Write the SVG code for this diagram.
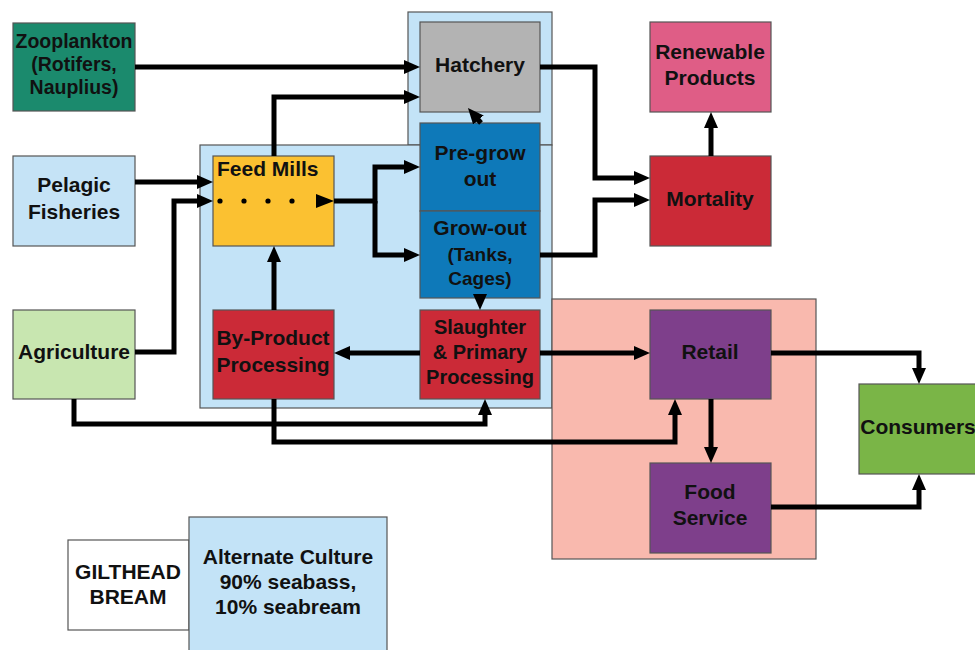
<svg xmlns="http://www.w3.org/2000/svg" width="975" height="650" viewBox="0 0 975 650">
<style>
.bx{stroke:#555;stroke-width:1.2}
.t{font-family:"Liberation Sans",Arial,sans-serif;font-weight:bold;font-size:21px;fill:#111;text-anchor:middle}
.c{fill:none;stroke:#000;stroke-width:5;stroke-linejoin:miter;marker-end:url(#ah)}
</style>
<defs>
<marker id="ah" markerWidth="16" markerHeight="14" refX="6" refY="7" orient="auto" markerUnits="userSpaceOnUse"><path d="M0,0 L16,7 L0,14 z" fill="#000"/></marker>
</defs>
<rect width="975" height="650" fill="#fff"/>
<g id="containers">
<rect x="408" y="12" width="144" height="133" fill="#c3e3f7" class="bx"/>
<rect x="200" y="145" width="352" height="263" fill="#c3e3f7" class="bx"/>
<rect x="552" y="299" width="264" height="260" fill="#f9b9ae" class="bx"/>
</g>
<g id="zooplankton">
<rect x="13" y="23" width="122" height="88" fill="#1b8a6d" class="bx"/>
<text class="t" style="font-size:19.5px" x="74" y="48">Zooplankton</text>
<text class="t" style="font-size:19.5px" x="74" y="71">(Rotifers,</text>
<text class="t" style="font-size:19.5px" x="74" y="94">Nauplius)</text>
</g>
<g id="pelagic">
<rect x="13" y="156" width="122" height="90" fill="#c5e3f6" class="bx"/>
<text class="t" x="74" y="192">Pelagic</text>
<text class="t" x="74" y="219">Fisheries</text>
</g>
<g id="agriculture">
<rect x="13" y="310" width="122" height="89" fill="#c8e6b0" class="bx"/>
<text class="t" x="74" y="359">Agriculture</text>
</g>
<g id="hatchery">
<rect x="420" y="22" width="120" height="90" fill="#b3b3b3" class="bx"/>
<text class="t" x="480" y="72">Hatchery</text>
</g>
<g id="pregrow">
<rect x="420" y="123" width="120" height="88" fill="#0e79b9" class="bx"/>
<text class="t" x="480" y="160">Pre-grow</text>
<text class="t" x="480" y="186">out</text>
</g>
<g id="growout">
<rect x="420" y="211" width="120" height="87" fill="#0e79b9" class="bx"/>
<text class="t" x="480" y="235">Grow-out</text>
<text class="t" style="font-size:19px" x="480" y="261">(Tanks,</text>
<text class="t" style="font-size:19px" x="480" y="285">Cages)</text>
</g>
<g id="feedmills">
<rect x="213" y="156" width="121" height="90" fill="#fbc131" class="bx"/>
<text class="t" style="text-anchor:start" x="217" y="176">Feed Mills</text>
<circle cx="220" cy="201" r="2.6"/>
<circle cx="244" cy="201" r="2.6"/>
<circle cx="268" cy="201" r="2.6"/>
<circle cx="292" cy="201" r="2.6"/>
<polygon points="316,194 334,201 316,208"/>
</g>
<g id="renewable">
<rect x="650" y="22" width="121" height="90" fill="#df5d86" class="bx"/>
<text class="t" x="710" y="59">Renewable</text>
<text class="t" x="710" y="85">Products</text>
</g>
<g id="mortality">
<rect x="650" y="156" width="121" height="90" fill="#cb2a37" class="bx"/>
<text class="t" x="710" y="206">Mortality</text>
</g>
<g id="byproduct">
<rect x="213" y="310" width="121" height="89" fill="#cb2a37" class="bx"/>
<text class="t" x="273" y="345">By-Product</text>
<text class="t" x="273" y="372">Processing</text>
</g>
<g id="slaughter">
<rect x="420" y="310" width="120" height="89" fill="#cb2a37" class="bx"/>
<text class="t" style="font-size:20px" x="480" y="334">Slaughter</text>
<text class="t" style="font-size:20px" x="480" y="359">&amp; Primary</text>
<text class="t" style="font-size:20px" x="480" y="384">Processing</text>
</g>
<g id="retail">
<rect x="650" y="310" width="121" height="89" fill="#7e3f8b" class="bx"/>
<text class="t" x="710" y="359">Retail</text>
</g>
<g id="foodservice">
<rect x="650" y="463" width="121" height="90" fill="#7e3f8b" class="bx"/>
<text class="t" x="710" y="499">Food</text>
<text class="t" x="710" y="525">Service</text>
</g>
<g id="consumers">
<rect x="859" y="384" width="122" height="90" fill="#7ab547" class="bx"/>
<text class="t" x="918" y="434">Consumers</text>
</g>
<g id="legend-gilthead">
<rect x="68" y="540" width="121" height="90" fill="#fff" class="bx"/>
<text class="t" x="128" y="579">GILTHEAD</text>
<text class="t" x="128" y="604">BREAM</text>
</g>
<g id="legend-alternate">
<rect x="189" y="517" width="198" height="140" fill="#c3e3f7" class="bx"/>
<text class="t" x="288" y="564">Alternate Culture</text>
<text class="t" x="288" y="589">90% seabass,</text>
<text class="t" x="288" y="614">10% seabream</text>
</g>
<g id="connectors">
<path class="c" d="M135,67 H410"/>
<path class="c" d="M274,156 V97 H410"/>
<path class="c" d="M135,182 H203"/>
<path class="c" d="M135,352 H174 V201 H203"/>
<path class="c" d="M334,201 H375 V167 H410"/>
<path class="c" d="M375,201 V255 H410"/>
<path class="c" d="M481,123 L474.5,115.5"/>
<path class="c" d="M480,297 V300"/>
<path class="c" d="M540,67 H595 V178 H640"/>
<path class="c" d="M540,255 H595 V200 H640"/>
<path class="c" d="M711,156 V122"/>
<path class="c" d="M420,353 H344"/>
<path class="c" d="M274,310 V256"/>
<path class="c" d="M74,399 V424 H485 V409"/>
<path class="c" d="M274,399 V442 H675 V409"/>
<path class="c" d="M540,353 H640"/>
<path class="c" d="M771,353 H919 V374"/>
<path class="c" d="M711,399 V453"/>
<path class="c" d="M771,507 H919 V484"/>
</g>
</svg>
